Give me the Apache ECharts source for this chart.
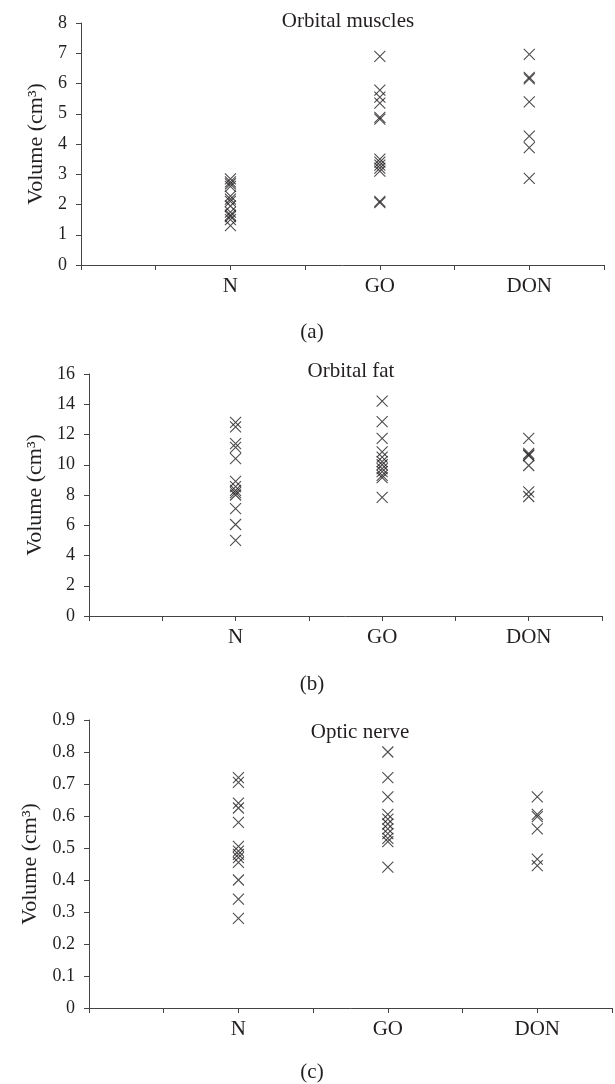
<!DOCTYPE html>
<html lang="en">
<head>
<meta charset="utf-8">
<title>Orbital volumes</title>
<script src="https://cdn.jsdelivr.net/npm/echarts@6/dist/echarts.min.js"></script>
<style>
  html, body { margin: 0; padding: 0; background: #fff; }
  #chart { width: 615px; height: 1084px; }
</style>
</head>
<body>
<div id="chart"></div>
<script>
// groups on the x axis
var groups = ['N', 'GO', 'DON'];
var panelTitles = ['Orbital muscles', 'Orbital fat', 'Optic nerve'];
var panelLetters = ['(a)', '(b)', '(c)'];

// (a) orbital muscles, cm3
var muscleN = [2.85, 2.75, 2.68, 2.6, 2.28, 2.18, 2.1, 1.95, 1.75, 1.65, 1.6, 1.5, 1.3];
var muscleGO = [6.9, 5.78, 5.55, 5.35, 4.88, 4.82, 3.5, 3.4, 3.3, 3.2, 3.1, 2.1, 2.06];
var muscleDON = [6.96, 6.2, 6.15, 5.39, 4.26, 3.88, 2.86];

// (b) orbital fat, cm3
var fatN = [12.8, 12.5, 11.4, 11.15, 10.4, 8.9, 8.55, 8.3, 8.15, 8.0, 7.1, 6.05, 5.0];
var fatGO = [14.2, 12.85, 11.75, 10.85, 10.5, 10.2, 10.0, 9.75, 9.55, 9.3, 9.15, 7.85];
var fatDON = [11.75, 10.75, 10.65, 10.6, 9.95, 8.2, 7.9];

// (c) optic nerve, cm3
var nerveN = [0.72, 0.705, 0.64, 0.625, 0.58, 0.505, 0.49, 0.48, 0.47, 0.455, 0.40, 0.34, 0.28];
var nerveGO = [0.80, 0.72, 0.66, 0.605, 0.59, 0.575, 0.56, 0.545, 0.53, 0.52, 0.44];
var nerveDON = [0.66, 0.605, 0.598, 0.56, 0.465, 0.445];

// y axis ranges per panel
var yMax = [8, 16, 0.9];
var yStep = [1, 2, 0.1];

var ink = '#231f20';
var font = 'Liberation Serif';

function points(lists) {
  var out = [];
  lists.forEach(function (vals, i) {
    vals.forEach(function (v) { out.push([i + 1, v]); });
  });
  return out;
}

var panels = [
  points([muscleN, muscleGO, muscleDON]),
  points([fatN, fatGO, fatDON]),
  points([nerveN, nerveGO, nerveDON])
];

var grids = [
  { left: 81, width: 523, top: 23, height: 242 },
  { left: 89, width: 513, top: 374, height: 242 },
  { left: 89, width: 524, top: 720, height: 288 }
];
var titleX = [343, 346, 355];
var titleY = [6, 356, 717];
var letterY = [317, 669, 1057];
var nameGap = [34, 38, 38];

var option = {
  animation: false,
  backgroundColor: '#fff',
  title: [],
  grid: grids,
  xAxis: [],
  yAxis: [],
  series: []
};

for (var i = 0; i < 3; i++) {
  option.title.push({
    text: panelTitles[i], left: titleX[i], top: titleY[i], textAlign: 'center',
    textStyle: { fontFamily: font, fontSize: 21, fontWeight: 'normal', color: ink }
  });
  option.title.push({
    text: panelLetters[i], left: 307, top: letterY[i], textAlign: 'center',
    textStyle: { fontFamily: font, fontSize: 21, fontWeight: 'normal', color: ink }
  });
  option.xAxis.push({
    gridIndex: i, type: 'value', min: 0, max: 3.5, interval: 0.5,
    axisLine: { show: true, lineStyle: { color: '#444', width: 1 } },
    axisTick: { show: true, length: 5, lineStyle: { color: '#444' } },
    splitLine: { show: false },
    axisLabel: {
      color: ink, fontFamily: font, fontSize: 21, margin: 11,
      showMinLabel: true, showMaxLabel: true,
      formatter: function (v) {
        return (v % 1 === 0 && v >= 1 && v <= 3) ? groups[v - 1] : '';
      }
    }
  });
  option.yAxis.push({
    gridIndex: i, type: 'value', min: 0, max: yMax[i], interval: yStep[i],
    name: 'Volume (cm³)', nameLocation: 'middle', nameGap: nameGap[i],
    nameTextStyle: { fontFamily: font, fontSize: 22, color: ink },
    axisLine: { show: true, lineStyle: { color: '#444', width: 1 } },
    axisTick: { show: true, length: 5, lineStyle: { color: '#444' } },
    splitLine: { show: false },
    axisLabel: { color: ink, fontFamily: font, fontSize: 18, margin: 14 }
  });
  option.series.push({
    type: 'scatter', xAxisIndex: i, yAxisIndex: i,
    data: panels[i],
    symbol: 'path://M0,0L10,10M0,10L10,0',
    symbolSize: 11,
    itemStyle: { color: 'rgba(0,0,0,0)', borderColor: ink, borderWidth: 1.1 },
    emphasis: { disabled: true }
  });
}

var chart = echarts.init(document.getElementById('chart'));
chart.setOption(option);
</script>
</body>
</html>
